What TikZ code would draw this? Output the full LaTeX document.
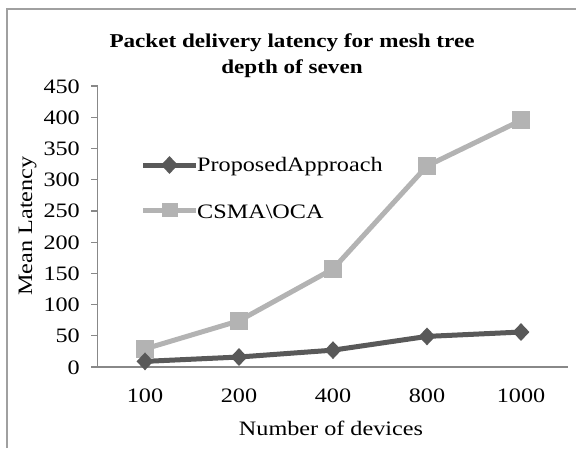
\documentclass[tikz,border=0pt]{standalone}
\usepackage{fontspec}
\setmainfont{Liberation Serif}[FakeStretch=1.18]
\usetikzlibrary{shapes.geometric}
\definecolor{darkser}{HTML}{595959}
\definecolor{lightser}{HTML}{B3B3B3}
\definecolor{axisgray}{HTML}{888888}
\definecolor{framegray}{HTML}{A0A0A0}
\tikzset{
  frameline/.style={draw=framegray,line width=1.6pt},
  axisline/.style={draw=axisgray,line width=1.2pt},
  txt/.style={inner sep=0pt,font=\fontsize{20.5}{26}\selectfont},
  titletxt/.style={inner sep=0pt,anchor=base,font=\fontsize{19.6}{26}\selectfont\bfseries},
  ticklab/.style={txt,anchor=base east},
  xlab/.style={txt,anchor=base},
  darkline/.style={draw=darkser,line width=5pt,line join=round},
  lightline/.style={draw=lightser,line width=5pt,line join=round},
  dmark/.style={diamond,fill=darkser,inner sep=0pt,minimum width=17pt,minimum height=18pt},
  smark/.style={rectangle,fill=lightser,inner sep=0pt,minimum size=18pt},
  lsmark/.style={rectangle,fill=lightser,inner sep=0pt,minimum width=16pt,minimum height=14pt}
}
\begin{document}
\begin{tikzpicture}[x=1pt,y=-1pt]
\useasboundingbox (0,0) rectangle (576,448);
% outer frame
\draw[frameline] (7,448) -- (7,9) -- (576,9);
% title
\node[titletxt] (t1) at (292,47) {Packet delivery latency for mesh tree};
\node[titletxt] (t2) at (292,73) {depth of seven};
% axes
\coordinate (o) at (97.7,367);
\coordinate (ytop) at (97.7,86);
\coordinate (xend) at (568,367);
\draw[axisline] (ytop) -- (o) -- (xend);
\foreach \v in {0,50,...,450}{
  \coordinate (tk\v) at (97.7,{367-0.6244*\v});
  \draw[axisline] (tk\v) -- ++(-7,0);
  \node[ticklab] (yl\v) at (80,{367-0.6244*\v+7}) {\v};
}
\foreach \lab/\xx in {100/145,200/239,400/333,800/427,1000/521}{
  \node[xlab] (xl\lab) at (\xx,402) {\lab};
}
\node[xlab] (xt) at (331,435) {Number of devices};
\node[txt,rotate=90,anchor=base] (yt) at (32,226) {Mean Latency};
% data coordinates
\coordinate (c1) at (145,{367-0.6244*29});
\coordinate (c2) at (239,{367-0.6244*74});
\coordinate (c3) at (333,{367-0.6244*157});
\coordinate (c4) at (427,{367-0.6244*322});
\coordinate (c5) at (521,{367-0.6244*395});
\coordinate (p1) at (145,{367-0.6244*9});
\coordinate (p2) at (239,{367-0.6244*16});
\coordinate (p3) at (333,{367-0.6244*27});
\coordinate (p4) at (427,{367-0.6244*49});
\coordinate (p5) at (521,{367-0.6244*56});
% CSMA\OCA series
\draw[lightline] (c1) -- (c2) -- (c3) -- (c4) -- (c5);
\foreach \i in {1,...,5}{\node[smark] (cm\i) at (c\i) {};}
% Proposed series
\draw[darkline] (p1) -- (p2) -- (p3) -- (p4) -- (p5);
\foreach \i in {1,...,5}{\node[dmark] (pm\i) at (p\i) {};}
% legend
\coordinate (la1) at (143,165);
\coordinate (lb1) at (196,165);
\coordinate (la2) at (143,210);
\coordinate (lb2) at (196,210);
\draw[darkline] (la1) -- (lb1);
\node[dmark] (lm1) at (169.5,165) {};
\draw[lightline] (la2) -- (lb2);
\node[lsmark] (lm2) at (169.5,210) {};
\node[txt,anchor=base west] (lt1) at (197,171) {ProposedApproach};
\node[txt,anchor=base west] (lt2) at (197,218) {CSMA\textbackslash OCA};
\end{tikzpicture}
\end{document}
